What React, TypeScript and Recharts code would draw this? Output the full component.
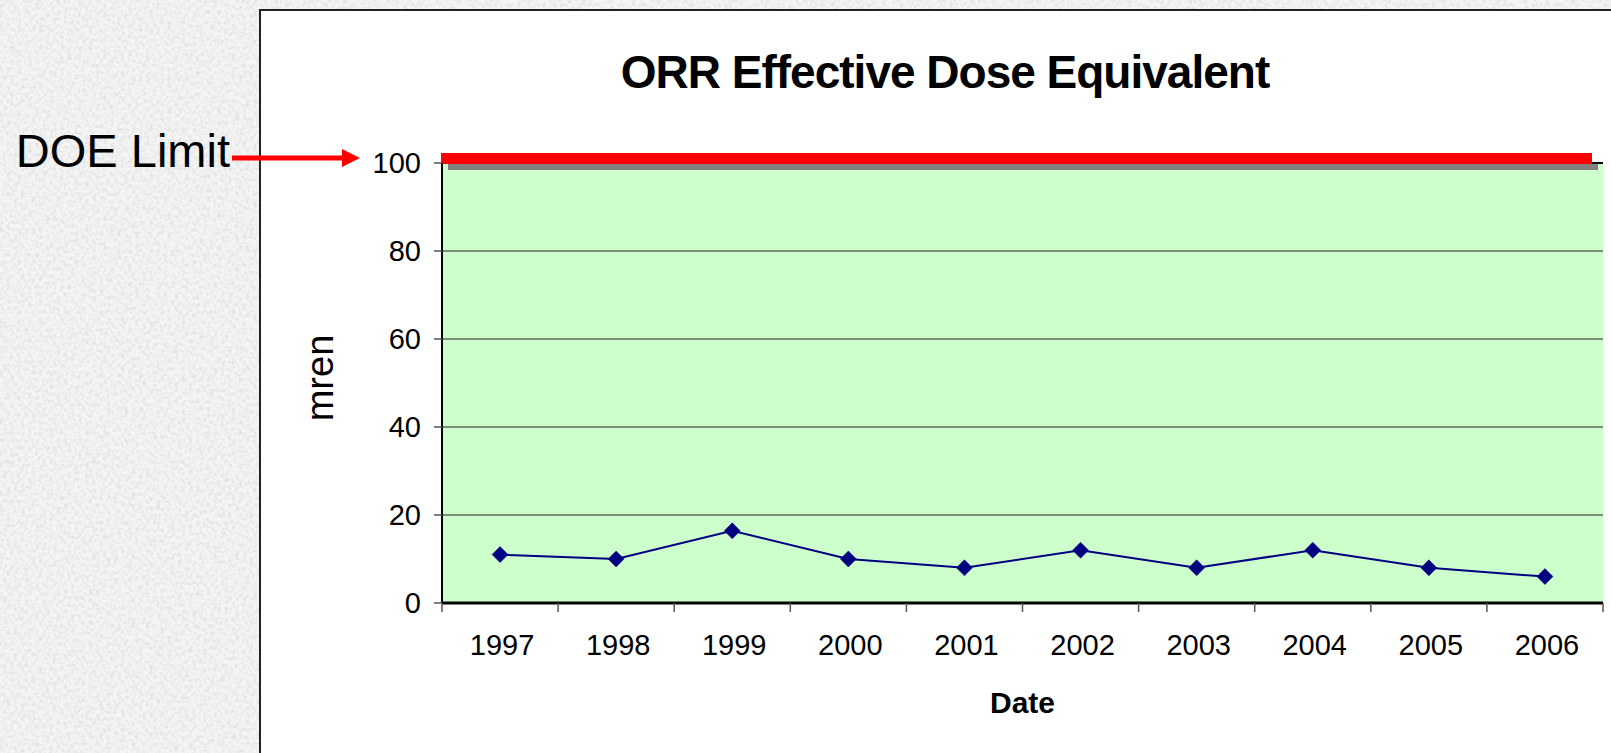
import React from 'react';
import {
  LineChart,
  Line,
  XAxis,
  YAxis,
  CartesianGrid,
  ReferenceLine,
} from 'recharts';

// ---- data ----
const years = ['1997', '1998', '1999', '2000', '2001', '2002', '2003', '2004', '2005', '2006'];
const doseValues = [11, 10, 16.4, 10, 8, 12, 8, 12, 8, 6];
const yTicks = [0, 20, 40, 60, 80, 100];
const DOE_LIMIT = 100;
const TITLE = 'ORR Effective Dose Equivalent';
const X_LABEL = 'Date';
const Y_LABEL = 'mren';
const LIMIT_LABEL = 'DOE Limit';

const data = years.map((year, i) => ({ year, dose: doseValues[i] }));

// ---- layout ----
const W = 1611;
const H = 753;
const M = { top: 163, right: 8, bottom: 90, left: 382 };
const YW = 60;
const XH = 60;
const PLOT_W = W - M.left - YW - M.right;
const BAND = PLOT_W / years.length;
const FONT = '"Liberation Sans", Arial, Helvetica, sans-serif';

const XTick = (props: any) => {
  const { x, y, payload, index } = props;
  const half = BAND / 2;
  return (
    <g>
      <line x1={x - half} y1={y} x2={x - half} y2={y + 9} stroke="#555" strokeWidth={1.5} />
      {index === years.length - 1 && (
        <line x1={x + half} y1={y} x2={x + half} y2={y + 9} stroke="#555" strokeWidth={1.5} />
      )}
      <text x={x + 2} y={y + 52} textAnchor="middle" fontSize={29} fontFamily={FONT} fill="#000">
        {payload.value}
      </text>
    </g>
  );
};

const Diamond = (props: any) => {
  const { cx, cy, index } = props;
  if (cx == null || cy == null) return null;
  const r = 8;
  return (
    <polygon
      key={`d-${index}`}
      points={`${cx},${cy - r} ${cx + r},${cy} ${cx},${cy + r} ${cx - r},${cy}`}
      fill="#000080"
      stroke="#000080"
      strokeWidth={0.5}
    />
  );
};

const LimitShape = (props: any) => {
  const { x1, y1, x2 } = props;
  if (x1 == null || y1 == null) return null;
  const arrowTip = x1 - 82;
  const arrowStart = x1 - 210;
  const ay = y1 - 5;
  return (
    <g>
      <line x1={x1} y1={y1} x2={x2} y2={y1} stroke="#000" strokeWidth={2} />
      <rect x={x1 + 6} y={y1 + 1} width={x2 - x1 - 11} height={6} fill="#808080" />
      <rect x={x1 - 1} y={y1 - 10} width={x2 - x1 - 10} height={11} fill="#ff0000" />
      <line x1={arrowStart} y1={ay} x2={arrowTip - 16} y2={ay} stroke="#ff0000" strokeWidth={5} />
      <polygon
        points={`${arrowTip - 18},${ay - 9} ${arrowTip},${ay} ${arrowTip - 18},${ay + 9}`}
        fill="#ff0000"
      />
      <text
        x={arrowStart - 2}
        y={y1 + 4}
        textAnchor="end"
        fontSize={47}
        fontFamily={FONT}
        fill="#000"
      >
        {LIMIT_LABEL}
      </text>
    </g>
  );
};

export default function App() {
  return (
    <div
      style={{
        position: 'absolute',
        left: 0,
        top: 0,
        width: W,
        height: H,
        overflow: 'hidden',
        background: '#f2f2f2',
      }}
    >
      <svg width={W} height={H} style={{ position: 'absolute', left: 0, top: 0 }}>
        <defs>
          <filter id="stone" x="0" y="0" width="100%" height="100%">
            <feTurbulence type="fractalNoise" baseFrequency="0.28" numOctaves="2" seed="7" />
            <feColorMatrix
              type="matrix"
              values="0 0 0 0 0.55  0 0 0 0 0.55  0 0 0 0 0.55  2.4 0 0 0 -1.0"
            />
          </filter>
        </defs>
        <rect x={0} y={0} width={W} height={H} fill="#f4f4f4" />
        <rect x={0} y={0} width={W} height={H} filter="url(#stone)" opacity={0.4} />
      </svg>
      <div
        style={{
          position: 'absolute',
          left: 259,
          top: 9,
          width: W,
          height: H,
          background: '#fff',
          border: '2px solid #222',
        }}
      />
      <div style={{ position: 'absolute', left: 0, top: 0 }}>
        <LineChart
          width={W}
          height={H}
          data={data}
          margin={M}
          style={{ fontFamily: FONT }}
        >
          <CartesianGrid
            vertical={false}
            fill="#ccffcc"
            fillOpacity={1}
            stroke="#5a6a5a"
            strokeWidth={1.5}
          />
          <XAxis
            dataKey="year"
            scale="band"
            height={XH}
            tickLine={false}
            tickSize={0}
            tickMargin={0}
            interval={0}
            axisLine={{ stroke: '#000', strokeWidth: 3 }}
            tick={<XTick />}
          />
          <YAxis
            domain={[0, 100]}
            ticks={yTicks}
            width={YW}
            tickSize={8}
            tickMargin={13}
            interval={0}
            tickLine={{ stroke: '#555', strokeWidth: 1.5 }}
            axisLine={{ stroke: '#000', strokeWidth: 2 }}
            tick={{ fill: '#000', fontSize: 29, fontFamily: FONT }}
          />
          <YAxis
            yAxisId="right"
            orientation="right"
            domain={[0, 100]}
            width={0}
            tick={false}
            tickLine={false}
            axisLine={{ stroke: '#000', strokeWidth: 2 }}
          />
          <ReferenceLine y={DOE_LIMIT} ifOverflow="visible" shape={<LimitShape />} />
          <Line
            type="linear"
            dataKey="dose"
            stroke="#000080"
            strokeWidth={2}
            dot={<Diamond />}
            activeDot={false}
            isAnimationActive={false}
          />
        </LineChart>
      </div>
      <svg
        width={W}
        height={H}
        style={{ position: 'absolute', left: 0, top: 0, pointerEvents: 'none' }}
      >
        <text
          x={945}
          y={88}
          textAnchor="middle"
          fontSize={46}
          fontWeight="bold"
          letterSpacing={-1}
          fontFamily={FONT}
          fill="#000"
        >
          {TITLE}
        </text>
        <text
          x={M.left + YW + PLOT_W / 2}
          y={713}
          textAnchor="middle"
          fontSize={30}
          fontWeight="bold"
          fontFamily={FONT}
          fill="#000"
        >
          {X_LABEL}
        </text>
        <text
          x={333}
          y={378}
          textAnchor="middle"
          fontSize={38}
          fontFamily={FONT}
          fill="#000"
          transform="rotate(-90 333 378)"
        >
          {Y_LABEL}
        </text>
      </svg>
    </div>
  );
}
